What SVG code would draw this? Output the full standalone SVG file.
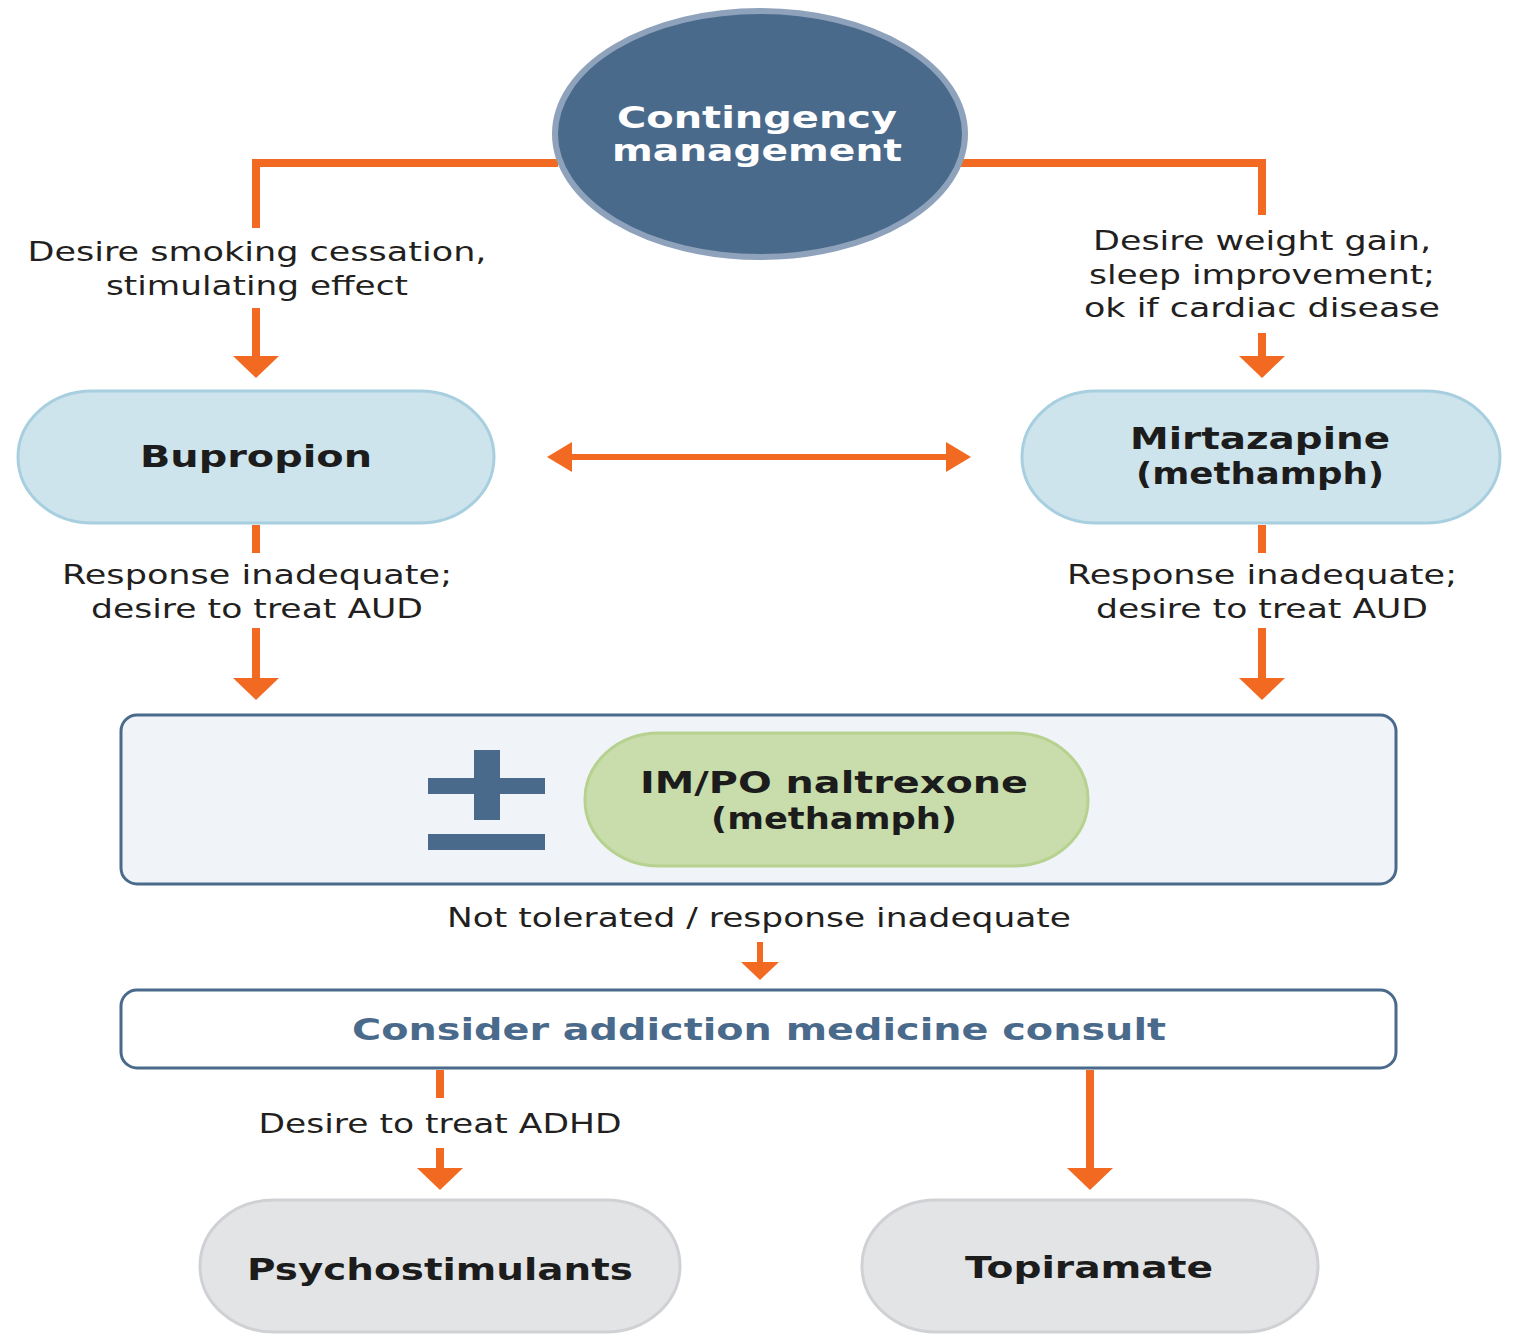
<svg xmlns="http://www.w3.org/2000/svg" width="1516" height="1334" viewBox="0 0 1516 1334">
<style>
.lbl{font-family:"DejaVu Sans","Liberation Sans",sans-serif;font-size:27px;fill:#231f20;text-anchor:middle}
.bold{font-family:"DejaVu Sans","Liberation Sans",sans-serif;font-size:31px;font-weight:bold;fill:#1c1c1c;text-anchor:middle}
.conn{fill:none;stroke:#f26a21;stroke-width:8}
.thin{fill:none;stroke:#f26a21;stroke-width:6}
.blue{fill:#cde4ed;stroke:#a8cfdf;stroke-width:3}
.grey{fill:#e3e4e6;stroke:#cfd1d4;stroke-width:3}
.box{stroke:#4a6a8c;stroke-width:3}
</style>
<defs>
<marker id="ah" markerUnits="userSpaceOnUse" viewBox="0 0 22 46" markerWidth="22" markerHeight="46" refX="0" refY="23" orient="auto-start-reverse">
<path d="M0,0 L22,23 L0,46 z" fill="#f26a21"/>
</marker>
<marker id="ahs" markerUnits="userSpaceOnUse" viewBox="0 0 25 30" markerWidth="25" markerHeight="30" refX="0" refY="15" orient="auto-start-reverse">
<path d="M0,0 L25,15 L0,30 z" fill="#f26a21"/>
</marker>
<marker id="ahm" markerUnits="userSpaceOnUse" viewBox="0 0 18 38" markerWidth="18" markerHeight="38" refX="0" refY="19" orient="auto-start-reverse">
<path d="M0,0 L18,19 L0,38 z" fill="#f26a21"/>
</marker>
</defs>
<rect width="1516" height="1334" fill="#ffffff"/>
<g id="connectors">
<path class="conn" d="M558,163 H256 V228"/>
<path class="conn" d="M256,308 V356" marker-end="url(#ah)"/>
<path class="conn" d="M960,163 H1262 V215"/>
<path class="conn" d="M1262,333 V356" marker-end="url(#ah)"/>
<path class="thin" d="M572,457 H946" marker-start="url(#ahs)" marker-end="url(#ahs)"/>
<path class="conn" d="M256,525 V553"/>
<path class="conn" d="M256,628 V678" marker-end="url(#ah)"/>
<path class="conn" d="M1262,525 V553"/>
<path class="conn" d="M1262,628 V678" marker-end="url(#ah)"/>
<path class="thin" d="M760,942 V962" marker-end="url(#ahm)"/>
<path class="conn" d="M440,1070 V1098"/>
<path class="conn" d="M440,1148 V1168" marker-end="url(#ah)"/>
<path class="conn" d="M1090,1070 V1168" marker-end="url(#ah)"/>
<text class="lbl" x="257" y="261" textLength="459" lengthAdjust="spacingAndGlyphs">Desire smoking cessation,</text>
<text class="lbl" x="257" y="295" textLength="302" lengthAdjust="spacingAndGlyphs">stimulating effect</text>
<text class="lbl" x="1262" y="250" textLength="338" lengthAdjust="spacingAndGlyphs">Desire weight gain,</text>
<text class="lbl" x="1262" y="284" textLength="346" lengthAdjust="spacingAndGlyphs">sleep improvement;</text>
<text class="lbl" x="1262" y="317" textLength="356" lengthAdjust="spacingAndGlyphs">ok if cardiac disease</text>
<text class="lbl" x="257" y="584" textLength="390" lengthAdjust="spacingAndGlyphs">Response inadequate;</text>
<text class="lbl" x="257" y="618" textLength="332" lengthAdjust="spacingAndGlyphs">desire to treat AUD</text>
<text class="lbl" x="1262" y="584" textLength="390" lengthAdjust="spacingAndGlyphs">Response inadequate;</text>
<text class="lbl" x="1262" y="618" textLength="332" lengthAdjust="spacingAndGlyphs">desire to treat AUD</text>
<text class="lbl" x="759" y="927" textLength="624" lengthAdjust="spacingAndGlyphs">Not tolerated / response inadequate</text>
<text class="lbl" x="440" y="1133" textLength="363" lengthAdjust="spacingAndGlyphs">Desire to treat ADHD</text>
</g>
<g id="contingency">
<ellipse cx="760" cy="134" rx="205" ry="123" fill="#4a6a8c" stroke="#8ea3bb" stroke-width="6"/>
<text class="bold" x="757" y="128" style="fill:#ffffff" textLength="280" lengthAdjust="spacingAndGlyphs">Contingency</text>
<text class="bold" x="757" y="161" style="fill:#ffffff" textLength="290" lengthAdjust="spacingAndGlyphs">management</text>
</g>
<g id="bupropion">
<rect class="blue" x="18" y="391" width="476" height="132" rx="74" ry="66"/>
<text class="bold" x="256" y="467" textLength="232" lengthAdjust="spacingAndGlyphs">Bupropion</text>
</g>
<g id="mirtazapine">
<rect class="blue" x="1022" y="391" width="478" height="132" rx="74" ry="66"/>
<text class="bold" x="1260" y="449" textLength="260" lengthAdjust="spacingAndGlyphs">Mirtazapine</text>
<text class="bold" x="1260" y="484" textLength="248" lengthAdjust="spacingAndGlyphs">(methamph)</text>
</g>
<g id="naltrexone-box">
<rect class="box" x="121" y="715" width="1275" height="169" rx="16" fill="#f0f4f8"/>
<rect x="474" y="750" width="26" height="70" fill="#4a6a8c"/>
<rect x="428" y="778" width="117" height="16" fill="#4a6a8c"/>
<rect x="428" y="834" width="117" height="16" fill="#4a6a8c"/>
<rect x="585" y="733" width="503" height="133" rx="74" ry="66" fill="#c8ddab" stroke="#b6d190" stroke-width="3"/>
<text class="bold" x="834" y="793" textLength="388" lengthAdjust="spacingAndGlyphs">IM/PO naltrexone</text>
<text class="bold" x="834" y="829" textLength="246" lengthAdjust="spacingAndGlyphs">(methamph)</text>
</g>
<g id="consult">
<rect class="box" x="121" y="990" width="1275" height="78" rx="16" fill="#ffffff"/>
<text class="bold" x="759" y="1040" style="fill:#4a6a8c" textLength="814" lengthAdjust="spacingAndGlyphs">Consider addiction medicine consult</text>
</g>
<g id="psychostimulants">
<rect class="grey" x="200" y="1200" width="480" height="132" rx="74" ry="66"/>
<text class="bold" x="440" y="1280" textLength="386" lengthAdjust="spacingAndGlyphs">Psychostimulants</text>
</g>
<g id="topiramate">
<rect class="grey" x="862" y="1200" width="456" height="132" rx="74" ry="66"/>
<text class="bold" x="1089" y="1278" textLength="248" lengthAdjust="spacingAndGlyphs">Topiramate</text>
</g>
</svg>
